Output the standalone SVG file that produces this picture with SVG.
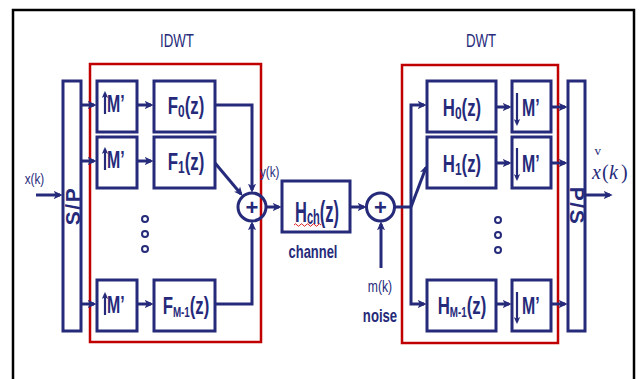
<svg xmlns="http://www.w3.org/2000/svg" width="641" height="379" viewBox="0 0 641 379">
<style>
.bx{fill:#fff;stroke:#262a7a;stroke-width:3}
.red{fill:none;stroke:#c00000;stroke-width:2.5}
.ln{fill:none;stroke:#262a7a;stroke-width:3}
.thin{fill:none;stroke:#262a7a;stroke-width:2.2}
.lb{font-family:"Liberation Sans",Arial,sans-serif;font-weight:bold;fill:#262a7a}
.rg{font-family:"Liberation Sans",Arial,sans-serif;fill:#262a7a}
.mt{font-family:"Liberation Serif","Times New Roman",serif;fill:#262a7a}
.dot{fill:none;stroke:#262a7a;stroke-width:2}
</style>
<defs>
<marker id="ah" viewBox="0 0 10 10" refX="7" refY="5" markerWidth="9" markerHeight="9" markerUnits="userSpaceOnUse" orient="auto">
<path d="M0,0.5 L10,5 L0,9.5 L2.5,5 z" fill="#262a7a"/>
</marker>
<marker id="ahs" viewBox="0 0 10 10" refX="7" refY="5" markerWidth="7" markerHeight="7" markerUnits="userSpaceOnUse" orient="auto">
<path d="M0,0.5 L10,5 L0,9.5 L2.5,5 z" fill="#262a7a"/>
</marker>
</defs>
<rect width="641" height="379" fill="#fff"/>
<rect x="13" y="10" width="621" height="390" fill="none" stroke="#000" stroke-width="2.5"/>

<g id="idwt">
<rect class="red" x="90" y="64" width="171" height="278"/>
<text class="rg" font-size="19" text-anchor="middle" transform="translate(177,47) scale(0.7,1)">IDWT</text>
</g>
<g id="dwt">
<rect class="red" x="402" y="65" width="156" height="278"/>
<text class="rg" font-size="19" text-anchor="middle" transform="translate(481,47) scale(0.7,1)">DWT</text>
</g>

<g id="connectors">
<path class="ln" d="M36,195 H60" marker-end="url(#ah)"/>
<path class="ln" d="M81,105 H94" marker-end="url(#ah)"/>
<path class="ln" d="M81,161 H94" marker-end="url(#ah)"/>
<path class="ln" d="M81,304 H94" marker-end="url(#ah)"/>
<path class="ln" d="M137,105 H151" marker-end="url(#ah)"/>
<path class="ln" d="M137,161 H151" marker-end="url(#ah)"/>
<path class="ln" d="M137,304 H151" marker-end="url(#ah)"/>
<path class="ln" d="M215,105 H252 V190" marker-end="url(#ah)"/>
<path class="ln" d="M215,163 L241,194" marker-end="url(#ah)"/>
<path class="ln" d="M215,304 H252 V224" marker-end="url(#ah)"/>
<path class="ln" d="M266,207 H279" marker-end="url(#ah)"/>
<path class="ln" d="M350,207 H364" marker-end="url(#ah)"/>
<path class="ln" d="M381,268 V224" marker-end="url(#ah)"/>
<path class="ln" d="M394,207 H411"/>
<path class="ln" d="M411,207 V105 H424" marker-end="url(#ah)"/>
<path class="ln" d="M411,207 L426,167.5" marker-end="url(#ah)"/>
<path class="ln" d="M411,207 V304 H424" marker-end="url(#ah)"/>
<path class="ln" d="M496,107 H509" marker-end="url(#ah)"/>
<path class="ln" d="M496,163 H509" marker-end="url(#ah)"/>
<path class="ln" d="M496,304 H509" marker-end="url(#ah)"/>
<path class="ln" d="M551,107 H565" marker-end="url(#ah)"/>
<path class="ln" d="M551,163 H565" marker-end="url(#ah)"/>
<path class="ln" d="M551,304 H565" marker-end="url(#ah)"/>
<path class="ln" d="M585,195 H610" marker-end="url(#ah)"/>
</g>

<g id="labels">
<text class="rg" font-size="15" text-anchor="middle" transform="translate(34.5,184) scale(0.78,1)">x(k)</text>
<text class="rg" font-size="15" transform="translate(260,177) scale(0.78,1)">y(k)</text>
<text class="lb" font-size="18" text-anchor="middle" transform="translate(313,258) scale(0.72,1)">channel</text>
<text class="rg" font-size="16" text-anchor="middle" transform="translate(380,292) scale(0.76,1)">m(k)</text>
<text class="lb" font-size="18" text-anchor="middle" transform="translate(380,322) scale(0.73,1)">noise</text>
<text class="mt" font-size="13" x="594.5" y="155">v</text>
<text class="mt" font-size="20" y="179"><tspan x="592" font-style="italic">x</tspan><tspan x="602">(</tspan><tspan x="609" font-style="italic">k</tspan><tspan x="621">)</tspan></text>
</g>

<g id="sp">
<rect class="bx" x="63" y="81" width="18" height="250"/>
<text class="lb" font-size="21" text-anchor="middle" letter-spacing="1.5" transform="translate(80,206) rotate(-90)">S/P</text>
</g>

<g id="up0">
<rect class="bx" x="97" y="81" width="40" height="51"/>
<path class="thin" d="M105,114 V93" marker-end="url(#ahs)"/>
<text class="lb" font-size="24" transform="translate(107,112) scale(0.66,1)">M’</text>
</g>
<g id="up1">
<rect class="bx" x="97" y="137" width="40" height="51"/>
<path class="thin" d="M105,170 V149" marker-end="url(#ahs)"/>
<text class="lb" font-size="24" transform="translate(107,168) scale(0.66,1)">M’</text>
</g>
<g id="upM">
<rect class="bx" x="97" y="280" width="40" height="51"/>
<path class="thin" d="M105,315 V294" marker-end="url(#ahs)"/>
<text class="lb" font-size="24" transform="translate(107,313) scale(0.66,1)">M’</text>
</g>

<g id="f0">
<rect class="bx" x="154" y="81" width="61" height="51"/>
<text class="lb" font-size="24" text-anchor="middle" transform="translate(186,114) scale(0.7,1)">F<tspan font-size="17" dy="3">0</tspan><tspan dy="-3">(z)</tspan></text>
</g>
<g id="f1">
<rect class="bx" x="154" y="137" width="61" height="51"/>
<text class="lb" font-size="24" text-anchor="middle" transform="translate(186,170) scale(0.7,1)">F<tspan font-size="17" dy="3">1</tspan><tspan dy="-3">(z)</tspan></text>
</g>
<g id="fM">
<rect class="bx" x="154" y="280" width="61" height="51"/>
<text class="lb" font-size="24" text-anchor="middle" transform="translate(186,314) scale(0.7,1)">F<tspan font-size="14" dy="3">M-1</tspan><tspan dy="-3">(z)</tspan></text>
</g>

<g id="dotsL">
<circle class="dot" cx="145" cy="219" r="3"/>
<circle class="dot" cx="145" cy="234" r="3"/>
<circle class="dot" cx="145" cy="249" r="3"/>
</g>

<g id="sum1">
<circle cx="252" cy="207" r="14" fill="none" stroke="#262a7a" stroke-width="3"/>
<text class="lb" font-size="22" text-anchor="middle" x="252" y="215">+</text>
</g>

<g id="hch">
<rect class="bx" x="282" y="181" width="68" height="51"/>
<text class="lb" font-size="30" text-anchor="middle" transform="translate(317,222) scale(0.55,1)">H<tspan font-size="20" dy="2">ch</tspan><tspan dy="-2">(z)</tspan></text>
<path d="M294,225 q1.5,-2.5 3,0 t3,0 t3,0 t3,0 t3,0 t3,0 t3,0 t3,0 t3,0" fill="none" stroke="#e02020" stroke-width="1"/>
</g>

<g id="sum2">
<circle cx="380.5" cy="207" r="14" fill="none" stroke="#262a7a" stroke-width="3"/>
<text class="lb" font-size="22" text-anchor="middle" x="380.5" y="215">+</text>
</g>

<g id="h0">
<rect class="bx" x="427" y="81" width="69" height="51"/>
<text class="lb" font-size="24" text-anchor="middle" transform="translate(462,116) scale(0.7,1)">H<tspan font-size="17" dy="3">0</tspan><tspan dy="-3">(z)</tspan></text>
</g>
<g id="h1">
<rect class="bx" x="427" y="137" width="69" height="51"/>
<text class="lb" font-size="24" text-anchor="middle" transform="translate(462,172) scale(0.7,1)">H<tspan font-size="17" dy="3">1</tspan><tspan dy="-3">(z)</tspan></text>
</g>
<g id="hM">
<rect class="bx" x="427" y="280" width="69" height="51"/>
<text class="lb" font-size="24" text-anchor="middle" transform="translate(462,314) scale(0.7,1)">H<tspan font-size="14" dy="3">M-1</tspan><tspan dy="-3">(z)</tspan></text>
</g>

<g id="dotsR">
<circle class="dot" cx="498" cy="220" r="3"/>
<circle class="dot" cx="498" cy="235" r="3"/>
<circle class="dot" cx="498" cy="250" r="3"/>
</g>

<g id="dn0">
<rect class="bx" x="512" y="81" width="39" height="51"/>
<path class="thin" d="M517,93 V124" marker-end="url(#ahs)"/>
<text class="lb" font-size="24" transform="translate(522,116) scale(0.66,1)">M’</text>
</g>
<g id="dn1">
<rect class="bx" x="512" y="137" width="39" height="51"/>
<path class="thin" d="M517,148 V179" marker-end="url(#ahs)"/>
<text class="lb" font-size="24" transform="translate(522,172) scale(0.66,1)">M’</text>
</g>
<g id="dnM">
<rect class="bx" x="512" y="280" width="39" height="51"/>
<path class="thin" d="M517,292 V322" marker-end="url(#ahs)"/>
<text class="lb" font-size="24" transform="translate(522,314) scale(0.66,1)">M’</text>
</g>

<g id="ps">
<rect class="bx" x="568" y="81" width="17" height="250"/>
<text class="lb" font-size="21" text-anchor="middle" letter-spacing="1.5" transform="translate(570,206) rotate(90)">P/S</text>
</g>
</svg>
